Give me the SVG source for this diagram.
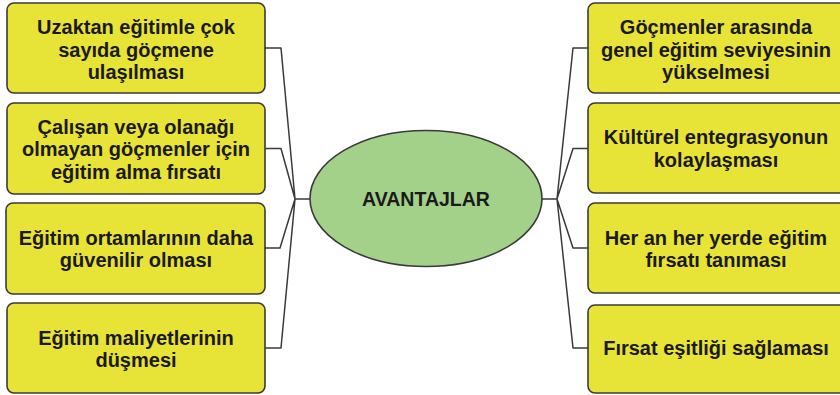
<svg xmlns="http://www.w3.org/2000/svg" width="840" height="395" viewBox="0 0 840 395">
<style>
.box{fill:#e8e337;stroke:#3a3a3a;stroke-width:1.6}
.hub{fill:#a3d18a;stroke:#3a3a3a;stroke-width:1.6}
.t{font-family:"Liberation Sans",Arial,sans-serif;font-weight:bold;font-size:20px;fill:#1a1a1a;text-anchor:middle}
.c{fill:none;stroke:#3a3a3a;stroke-width:1.5;stroke-linejoin:round}
</style>
<rect width="840" height="395" fill="#ffffff"/>
<g id="connectors">
<path class="c" d="M265,48 H281 L295,199 M265,148.5 H281 L295,199 M265,248 H280 L295,199 M265,348 H281 L295,199 M295,199 H310"/>
<path class="c" d="M588,48 H573 L557,199 M588,148.5 H573 L557,199 M588,248 H573 L557,199 M588,348 H573 L557,199 M557,199 H542"/>
</g>
<g id="hub">
<ellipse class="hub" cx="426" cy="198.5" rx="116" ry="68"/>
<text class="t" x="426" y="206" style="font-size:19.5px">AVANTAJLAR</text>
</g>
<g id="l1">
<rect class="box" x="7" y="3" width="258" height="90" rx="7"/>
<text class="t" x="136" y="34">Uzaktan eğitimle çok</text>
<text class="t" x="136" y="56.5">sayıda göçmene</text>
<text class="t" x="136" y="79">ulaşılması</text>
</g>
<g id="l2">
<rect class="box" x="7" y="103" width="258" height="91" rx="7"/>
<text class="t" x="136" y="133.5">Çalışan veya olanağı</text>
<text class="t" x="136" y="156">olmayan göçmenler için</text>
<text class="t" x="136" y="178.5">eğitim alma fırsatı</text>
</g>
<g id="l3">
<rect class="box" x="6" y="203" width="259" height="91" rx="7"/>
<text class="t" x="136" y="244.5">Eğitim ortamlarının daha</text>
<text class="t" x="136" y="267">güvenilir olması</text>
</g>
<g id="l4">
<rect class="box" x="7" y="303" width="258" height="90" rx="7"/>
<text class="t" x="136" y="344.5">Eğitim maliyetlerinin</text>
<text class="t" x="136" y="367">düşmesi</text>
</g>
<g id="r1">
<rect class="box" x="588" y="3" width="258" height="90" rx="7"/>
<text class="t" x="716" y="34">Göçmenler arasında</text>
<text class="t" x="716" y="56.5">genel eğitim seviyesinin</text>
<text class="t" x="716" y="79">yükselmesi</text>
</g>
<g id="r2">
<rect class="box" x="588" y="103" width="258" height="90" rx="7"/>
<text class="t" x="716" y="143.5">Kültürel entegrasyonun</text>
<text class="t" x="716" y="166.5">kolaylaşması</text>
</g>
<g id="r3">
<rect class="box" x="588" y="203" width="258" height="90" rx="7"/>
<text class="t" x="716" y="244.5">Her an her yerde eğitim</text>
<text class="t" x="716" y="267">fırsatı tanıması</text>
</g>
<g id="r4">
<rect class="box" x="588" y="305" width="258" height="88" rx="7"/>
<text class="t" x="716" y="354.5">Fırsat eşitliği sağlaması</text>
</g>
</svg>
